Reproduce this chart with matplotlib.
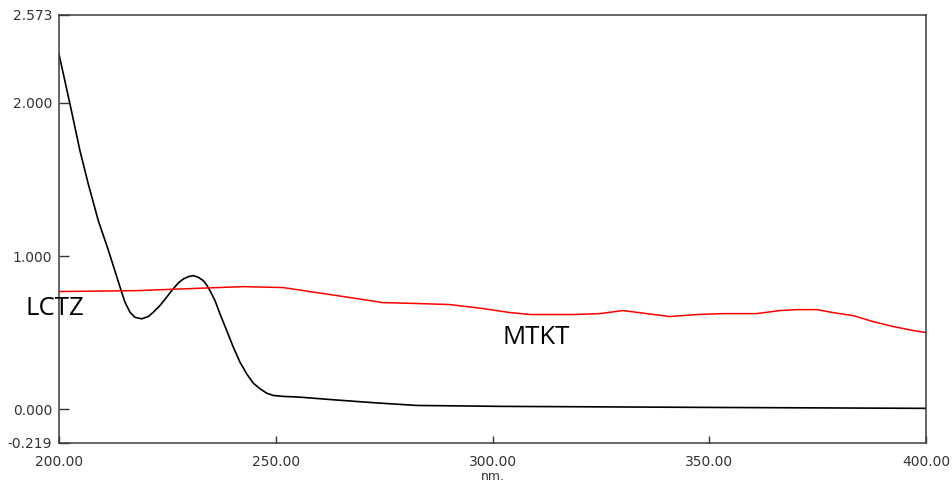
import matplotlib
matplotlib.use("Agg")
import matplotlib.pyplot as plt

# LCTZ spectrum (black)
lctz_nm = [200.00, 202.54, 204.84, 206.76, 209.07, 211.37, 213.00, 214.46, 215.23, 216.38,
           217.53, 219.07, 220.60, 221.75, 223.30, 224.84, 225.99, 227.53, 228.68, 229.83,
           230.99, 232.14, 233.29, 234.06, 234.83, 235.99, 237.14, 238.68, 240.21, 241.75,
           243.30, 244.82, 246.37, 247.91, 249.44, 251.74, 255.59, 263.30, 272.50, 282.50,
           301.70, 350.90, 400.00]
lctz_abs = [2.317, 1.991, 1.687, 1.470, 1.231, 1.040, 0.895, 0.764, 0.699, 0.634,
            0.601, 0.591, 0.606, 0.634, 0.678, 0.732, 0.775, 0.825, 0.851, 0.866,
            0.873, 0.862, 0.840, 0.812, 0.775, 0.710, 0.623, 0.515, 0.406, 0.308,
            0.232, 0.171, 0.135, 0.106, 0.091, 0.085, 0.080, 0.063, 0.044, 0.026,
            0.020, 0.013, 0.007]

# MTKT spectrum (red)
mtkt_nm = [200.0, 218.0, 230.2, 242.4, 251.7, 259.5, 267.1, 274.7, 282.6, 290.2,
           297.8, 304.0, 308.7, 318.6, 324.8, 330.1, 335.6, 340.9, 347.2, 353.2,
           361.0, 366.3, 370.2, 374.9, 378.5, 383.2, 387.8, 392.4, 397.0, 400.0]
mtkt_abs = [0.769, 0.775, 0.788, 0.801, 0.795, 0.762, 0.730, 0.697, 0.691, 0.684,
            0.658, 0.632, 0.619, 0.619, 0.625, 0.645, 0.625, 0.606, 0.619, 0.625,
            0.625, 0.645, 0.651, 0.651, 0.632, 0.612, 0.573, 0.541, 0.515, 0.502]

x_ticks = [200, 250, 300, 350, 400]
x_labels = ["200.00", "250.00", "300.00", "350.00", "400.00"]
y_ticks = [-0.219, 0.0, 1.0, 2.0, 2.573]
y_labels = ["-0.219", "0.000", "1.000", "2.000", "2.573"]

fig = plt.figure(figsize=(9.53, 4.83), dpi=100)
ax = fig.add_axes([59 / 953, 1 - 443 / 483, 867 / 953, 428 / 483])

ax.plot(lctz_nm, lctz_abs, color="black", lw=1.2)
ax.plot(mtkt_nm, mtkt_abs, color="#ff0000", lw=1.1)

ax.set_xlim(200, 400)
ax.set_ylim(-0.219, 2.573)
ax.set_xticks(x_ticks)
ax.set_xticklabels(x_labels)
ax.set_yticks(y_ticks)
ax.set_yticklabels(y_labels)
ax.tick_params(axis="y", direction="in", length=7, width=1, pad=5,
               colors="#333333", labelsize=10)
ax.tick_params(axis="x", direction="in", length=5, width=1, pad=9,
               colors="#333333", labelsize=10)
ax.set_xlabel("nm.", fontsize=9, color="#333333", labelpad=0)

for s in ax.spines.values():
    s.set_color("#3a3a3a")
    s.set_linewidth(1.1)

ax.text(192.2, 0.619, "LCTZ", family="Open Sans", fontsize=18.5,
        ha="left", va="baseline", color="black", clip_on=False)
ax.text(302.2, 0.430, "MTKT", family="Open Sans", fontsize=18.5,
        ha="left", va="baseline", color="black")

fig.savefig("out.png", dpi=100)
